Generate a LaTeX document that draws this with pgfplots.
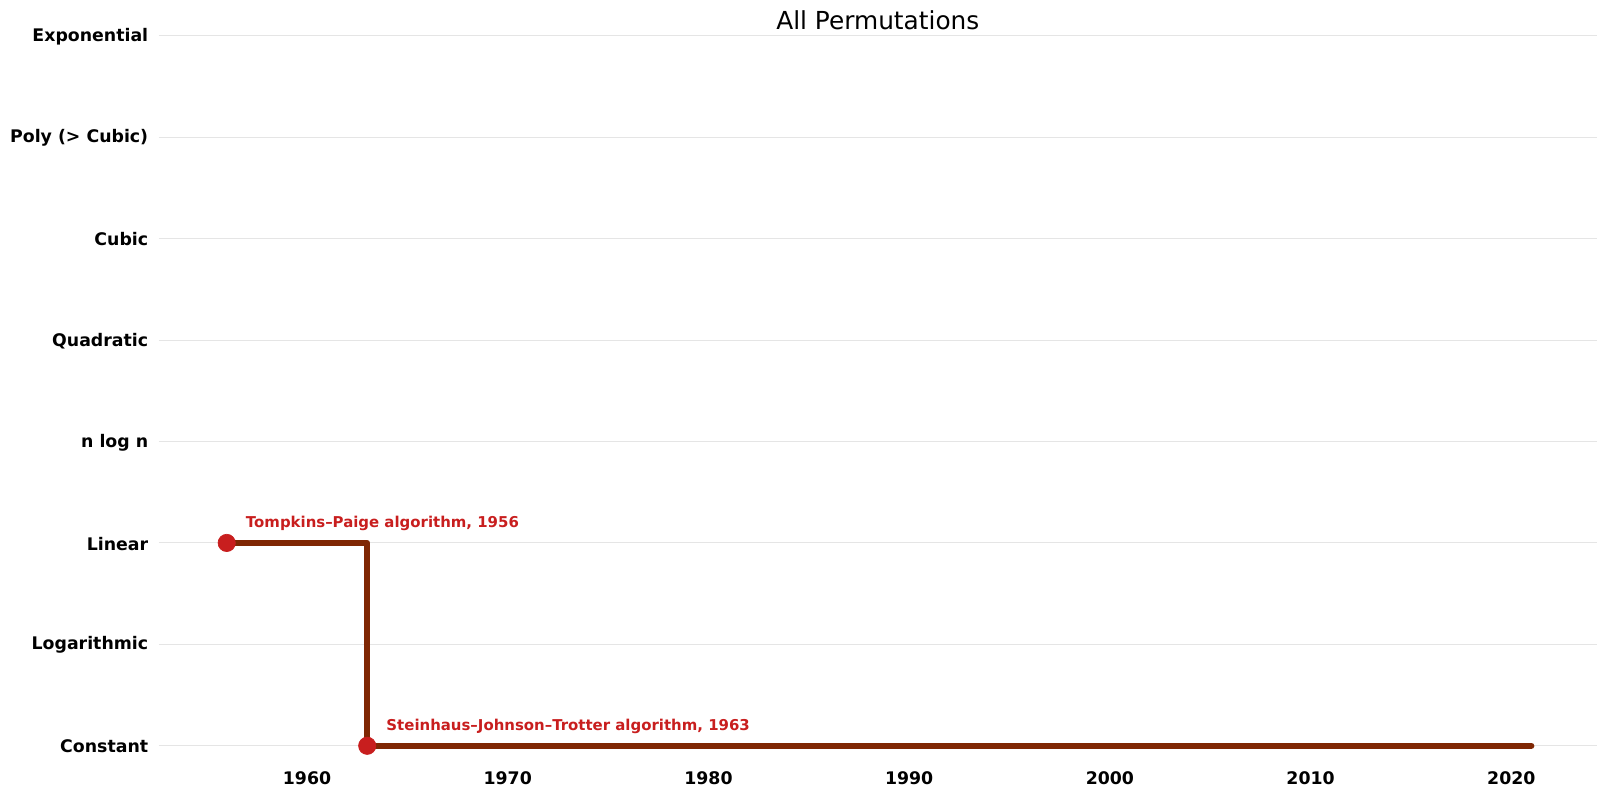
\documentclass[border=0pt]{standalone}
\usepackage{pgfplots}
\pgfplotsset{compat=1.18}
\usepackage{fontspec}
\setmainfont{DejaVu Sans}
\definecolor{stepline}{RGB}{127,39,4}
\definecolor{markred}{RGB}{200,30,30}
\definecolor{gridgray}{RGB}{229,229,229}
\begin{document}
\begin{tikzpicture}
\begin{axis}[
  at={(0,0)}, anchor=south west,
  scale only axis,
  width=1078.7pt, height=545.4pt,
  xmin=1952.61, xmax=2024.27,
  ymin=-0.17, ymax=7,
  axis line style={draw=none},
  major tick length=0pt,
  xtick={1960,1970,1980,1990,2000,2010,2020},
  xticklabels={1960,1970,1980,1990,2000,2010,2020},
  ytick={0,1,2,3,4,5,6,7},
  yticklabels={Constant,Logarithmic,Linear,n log n,Quadratic,Cubic,Poly (> Cubic),Exponential},
  ymajorgrids,
  major grid style={draw=gridgray, line width=0.75pt},
  xticklabel style={font=\bfseries\fontsize{13}{15}\selectfont, inner sep=0pt, anchor=north, yshift=-6.6pt},
  yticklabel style={font=\bfseries\fontsize{13}{15}\selectfont, inner sep=0pt, anchor=east, xshift=-7.7pt, yshift=-0.6pt},
  clip=false,
]
\addplot[const plot, stepline, line width=4.5pt, line cap=round, line join=round] coordinates {(1956,2) (1963,0) (2021,0)};
\addplot[only marks, mark=*, mark size=6.5pt, mark options={solid, fill=markred, draw=markred, line width=0.5pt}] coordinates {(1956,2) (1963,0)};
\node[anchor=west, inner sep=0pt, text=markred, font=\bfseries\fontsize{11.2}{13}\selectfont, xshift=14.25pt, yshift=14.5pt] at (axis cs:1956,2) {Tompkins–Paige algorithm, 1956};
\node[anchor=west, inner sep=0pt, text=markred, font=\bfseries\fontsize{11.2}{13}\selectfont, xshift=14.25pt, yshift=14.5pt] at (axis cs:1963,0) {Steinhaus–Johnson–Trotter algorithm, 1963};
\node[anchor=center, inner sep=0pt, font=\fontsize{18.6}{22}\selectfont, yshift=12pt] at (rel axis cs:0.5,1) {All Permutations};
\end{axis}
\useasboundingbox (-119.0pt,-24pt) rectangle (1084.7pt,572.25pt);
\end{tikzpicture}
\end{document}
